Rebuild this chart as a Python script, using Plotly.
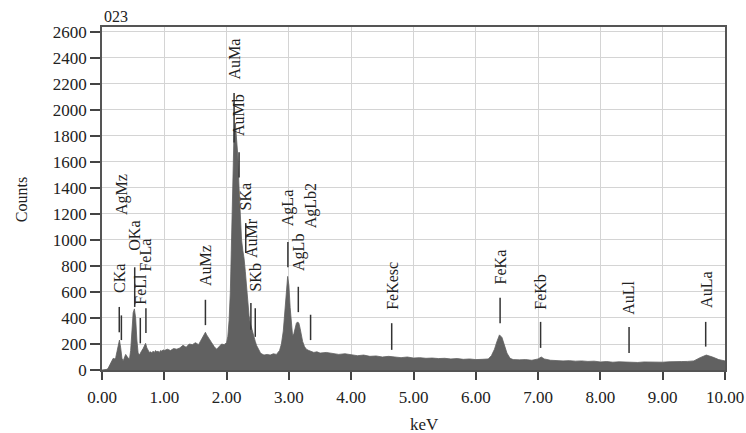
import plotly.graph_objects as go

# ---------------- data ----------------
energy_kev = [
    0.00, 0.02, 0.04, 0.06, 0.08, 0.10, 0.12, 0.14, 0.16, 0.18,
    0.20, 0.22, 0.24, 0.26, 0.28, 0.30, 0.32, 0.34, 0.36, 0.38,
    0.40, 0.42, 0.44, 0.46, 0.48, 0.50, 0.52, 0.54, 0.56, 0.58,
    0.60, 0.62, 0.64, 0.66, 0.68, 0.70, 0.72, 0.74, 0.76, 0.78,
    0.80, 0.82, 0.84, 0.86, 0.88, 0.90, 0.92, 0.94, 0.96, 0.98,
    1.00, 1.05, 1.10, 1.15, 1.20, 1.25, 1.30, 1.35, 1.40, 1.45,
    1.50, 1.55, 1.60, 1.64, 1.66, 1.68, 1.72, 1.76, 1.80, 1.84,
    1.88, 1.92, 1.96, 2.00, 2.02, 2.04, 2.06, 2.08, 2.10, 2.12,
    2.14, 2.16, 2.18, 2.20, 2.22, 2.24, 2.26, 2.28, 2.30, 2.32,
    2.34, 2.36, 2.38, 2.40, 2.42, 2.44, 2.46, 2.48, 2.50, 2.52,
    2.54, 2.56, 2.58, 2.60, 2.65, 2.70, 2.75, 2.80, 2.85, 2.88,
    2.91, 2.94, 2.96, 2.98, 3.00, 3.02, 3.04, 3.06, 3.08, 3.10,
    3.12, 3.14, 3.16, 3.18, 3.20, 3.22, 3.25, 3.28, 3.32, 3.36,
    3.40, 3.45, 3.50, 3.60, 3.70, 3.80, 3.90, 4.00, 4.10, 4.20,
    4.30, 4.40, 4.50, 4.60, 4.70, 4.80, 4.90, 5.00, 5.10, 5.20,
    5.30, 5.40, 5.50, 5.60, 5.70, 5.80, 5.90, 6.00, 6.10, 6.20,
    6.25, 6.30, 6.34, 6.38, 6.42, 6.46, 6.50, 6.55, 6.60, 6.70,
    6.80, 6.90, 7.00, 7.05, 7.10, 7.20, 7.30, 7.40, 7.50, 7.60,
    7.70, 7.80, 7.90, 8.00, 8.10, 8.20, 8.30, 8.40, 8.50, 8.60,
    8.70, 8.80, 8.90, 9.00, 9.10, 9.20, 9.30, 9.40, 9.50, 9.60,
    9.70, 9.80, 9.90, 10.00,
]
counts = [
    0, 0, 0, 0, 5, 15, 35, 55, 80, 90,
    85, 95, 140, 200, 230, 170, 90, 70, 95, 120,
    105, 95, 80, 150, 330, 440, 470, 400, 230, 130,
    115, 140, 150, 165, 185, 205, 170, 145, 135, 140,
    130, 145, 135, 150, 140, 145, 135, 150, 145, 155,
    150, 160, 150, 165, 160, 170, 190, 175, 200, 195,
    210, 195, 240, 275, 290, 270, 235, 210, 180, 160,
    180, 200, 195, 210, 260, 380, 600, 950, 1450, 1850,
    1900, 1780, 1650, 1400, 1150, 1000, 920, 860, 760, 620,
    500, 420, 360, 320, 280, 250, 220, 190, 170, 150,
    135, 125, 120, 115, 120, 115, 125, 120, 150, 200,
    300, 450, 600, 720, 650, 480, 330, 260, 280, 330,
    360, 370, 360, 320, 270, 220, 180, 160, 150, 145,
    135, 140, 130, 135, 125, 120, 125, 115, 110, 115,
    105, 108, 100, 105, 98, 95, 100, 92, 95, 90,
    92, 88, 90, 85, 88, 82, 85, 80, 82, 85,
    110, 160, 220, 270, 250, 190, 130, 90, 80, 78,
    80, 75, 85, 100, 85, 75, 72, 70, 72, 68,
    70, 66, 68, 62, 65, 60, 63, 60, 62, 58,
    62, 60, 62, 60, 63, 62, 65, 66, 70, 95,
    115, 100, 80, 70,
]

# peak identification markers
marker_names = ["CKa", "AgMz", "OKa", "FeLl", "FeLa", "AuMz", "AuMa", "AuMb",
                "SKa", "AuMr", "SKb", "AgLa", "AgLb", "AgLb2", "FeKesc",
                "FeKa", "FeKb", "AuLl", "AuLa"]
marker_kev = [0.277, 0.311, 0.525, 0.615, 0.705, 1.660, 2.120, 2.200,
              2.307, 2.390, 2.460, 2.984, 3.151, 3.348, 4.650,
              6.390, 7.040, 8.460, 9.690]

# layout of the markers (counts scale): line top, line bottom, label bottom
line_top = [485, 420, 790, 400, 475, 540, 2130, 1675, 1130, 515, 475,
            985, 640, 425, 360, 555, 370, 330, 370]
line_bottom = [290, 230, 485, 205, 285, 345, 1750, 1480, 900, 310, 255,
               790, 445, 230, 155, 360, 170, 130, 180]
label_bottom = [575, 1175, 900, 485, 745, 630, 2215, 1785, 1210, 845, 590,
                1090, 745, 1075, 445, 640, 445, 410, 460]

x_ticks = [0, 1, 2, 3, 4, 5, 6, 7, 8, 9, 10]
x_tick_text = ["0.00", "1.00", "2.00", "3.00", "4.00", "5.00", "6.00",
               "7.00", "8.00", "9.00", "10.00"]
y_ticks = list(range(0, 2601, 200))

# ---------------- figure ----------------
SERIF = "Liberation Serif, Times New Roman, serif"
TXT = "#222222"

fig = go.Figure()
fig.add_trace(go.Scatter(
    x=energy_kev, y=counts, mode="lines",
    line=dict(color="#606060", width=0.8),
    fill="tozeroy", fillcolor="#616161",
    hoverinfo="skip", showlegend=False,
))

mx, my = [], []
for e, t, b in zip(marker_kev, line_top, line_bottom):
    mx += [e, e, None]
    my += [t, b, None]
fig.add_trace(go.Scatter(
    x=mx, y=my, mode="lines",
    line=dict(color="#333333", width=1.5),
    hoverinfo="skip", showlegend=False,
))

annotations = []
for name, e, lb in zip(marker_names, marker_kev, label_bottom):
    annotations.append(dict(
        x=e, y=lb, xref="x", yref="y", text=name, showarrow=False,
        textangle=-90, xanchor="center", yanchor="bottom",
        font=dict(family=SERIF, size=16, color=TXT),
    ))

annotations += [
    dict(x=0.0, y=1.03, xref="paper", yref="paper", text="023",
         showarrow=False, xanchor="left", yanchor="middle",
         font=dict(family=SERIF, size=16, color=TXT)),
    dict(x=-0.128, y=0.496, xref="paper", yref="paper", text="Counts",
         showarrow=False, textangle=-90, xanchor="center", yanchor="middle",
         font=dict(family=SERIF, size=16, color=TXT)),
    dict(x=0.518, y=-0.16, xref="paper", yref="paper", text="keV",
         showarrow=False, xanchor="center", yanchor="middle",
         font=dict(family=SERIF, size=17, color=TXT)),
]

fig.update_layout(
    width=746, height=433,
    margin=dict(l=102, r=21, t=27, b=63, autoexpand=False),
    paper_bgcolor="white", plot_bgcolor="white",
    annotations=annotations,
    showlegend=False,
)
fig.update_xaxes(
    range=[0, 10], tickvals=x_ticks, ticktext=x_tick_text,
    ticks="outside", ticklen=8, tickcolor="#444444", tickwidth=1.5,
    showgrid=True, gridcolor="#d4d4d4", gridwidth=1,
    showline=True, linecolor="#555555", linewidth=1.5, mirror=True,
    zeroline=False, automargin=False, ticklabelstandoff=3,
    tickfont=dict(family=SERIF, size=17, color=TXT),
)
fig.update_yaxes(
    range=[0, 2638], tickvals=y_ticks,
    ticks="outside", ticklen=10, tickcolor="#444444", tickwidth=1.5,
    showgrid=True, gridcolor="#d4d4d4", gridwidth=1,
    showline=True, linecolor="#555555", linewidth=1.5, mirror=True,
    zeroline=False, automargin=False,
    tickfont=dict(family=SERIF, size=17, color=TXT),
)

fig.write_html(
    "out.html",
    config={"displayModeBar": False},
    post_script="document.body.style.margin='0';document.body.style.overflow='hidden';",
)
